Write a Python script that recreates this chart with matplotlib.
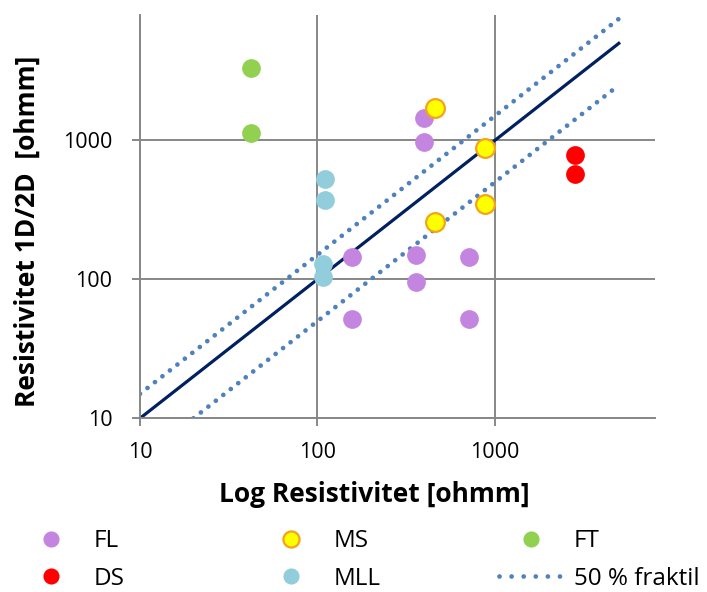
import matplotlib
matplotlib.use("Agg")
import matplotlib.pyplot as plt
from matplotlib.lines import Line2D

plt.rcParams['font.family'] = ['Open Sans', 'DejaVu Sans']

# data
fl_x = [157, 359, 359, 400, 400, 719, 719, 157]
fl_y = [145, 150, 96, 1456, 979, 145, 52, 52]
ms_x = [459, 879, 879, 459]
ms_y = [1718, 877, 349, 257]
ft_x = [42.2, 42.2]
ft_y = [3327, 1136]
ds_x = [2825, 2825]
ds_y = [789, 577]
mll_x = [111, 111, 108, 108]
mll_y = [527, 371, 128, 104]

# 1:1 line and 50 % fractile lines
line_x = [10, 5000]
line_y = [10, 5000]
upper_x = [10, 5000]
upper_y = [15, 7500]
lower_x = [20, 5000]
lower_y = [10, 2500]

ticks = [10, 100, 1000]
tick_labels = ["10", "100", "1000"]

fig = plt.figure(figsize=(7.07, 5.92), dpi=100)
ax = fig.add_axes([140 / 707, 1 - 418.3 / 592, 515 / 707, 403.3 / 592])
ax.set_xscale("log")
ax.set_yscale("log")
ax.set_xlim(10, 8000)
ax.set_ylim(10, 8000)

grey = "#878787"
ax.set_xticks(ticks)
ax.set_xticklabels(tick_labels)
ax.set_yticks(ticks)
ax.set_yticklabels(tick_labels)
ax.minorticks_off()
ax.grid(True, color=grey, linewidth=1.4)
ax.set_axisbelow(True)
for s in ["top", "right"]:
    ax.spines[s].set_visible(False)
for s in ["left", "bottom"]:
    ax.spines[s].set_color(grey)
    ax.spines[s].set_linewidth(1.4)
ax.tick_params(axis="both", length=6, width=1.4, color=grey, labelsize=15.5)
ax.tick_params(axis="x", pad=11)
ax.tick_params(axis="y", pad=14)

# lines
dots = (0, (0.01, 2.0))
ax.plot(line_x, line_y, color="#002060", linewidth=2.3, zorder=2)
ax.plot(upper_x, upper_y, color="#4F81BD", linewidth=3.4,
        linestyle=dots, dash_capstyle="round", zorder=2)
ax.plot(lower_x, lower_y, color="#4F81BD", linewidth=3.4,
        linestyle=dots, dash_capstyle="round", zorder=2)
# legend handle with a little wider dot spacing
frak = Line2D([], [], color="#4F81BD", linewidth=3.4,
              linestyle=(0, (0.01, 2.55)), dash_capstyle="round")

ms_size = 13.5
h_fl, = ax.plot(fl_x, fl_y, "o", ms=ms_size, color="#C485E0", mec="none", zorder=3)
h_ms, = ax.plot(ms_x, ms_y, "o", ms=ms_size, color="#FFFF00", mec="#F5A31A",
                mew=1.6, zorder=3)
h_ft, = ax.plot(ft_x, ft_y, "o", ms=ms_size, color="#92D050", mec="none", zorder=3)
h_ds, = ax.plot(ds_x, ds_y, "o", ms=ms_size, color="#FF0000", mec="none", zorder=3)
h_mll, = ax.plot(mll_x, mll_y, "o", ms=ms_size, color="#92CDDC", mec="none", zorder=3)

fig.text(374 / 707, 1 - 495 / 592, "Log Resistivitet [ohmm]", ha="center",
         va="center", fontsize=19, fontweight="bold")
fig.text(27 / 707, 1 - 231.5 / 592, "Resistivitet 1D/2D  [ohmm]", ha="center",
         va="center", rotation=90, fontsize=19, fontweight="bold")

# legend, three columns placed by hand
cols = [([h_fl, h_ds], ["FL", "DS"], 19),
        ([h_ms, h_mll], ["MS", "MLL"], 259),
        ([h_ft, frak], ["FT", "50 % fraktil"], 499)]
for handles, labels, x0 in cols:
    fig.legend(handles, labels, loc="center left",
               bbox_to_anchor=(x0 / 707, 1 - 560 / 592),
               frameon=False, fontsize=17.5, handlelength=2.65,
               handletextpad=0.42, borderpad=0, borderaxespad=0,
               labelspacing=0.55, numpoints=1, markerscale=0.86)

fig.savefig("out.png", dpi=100)
